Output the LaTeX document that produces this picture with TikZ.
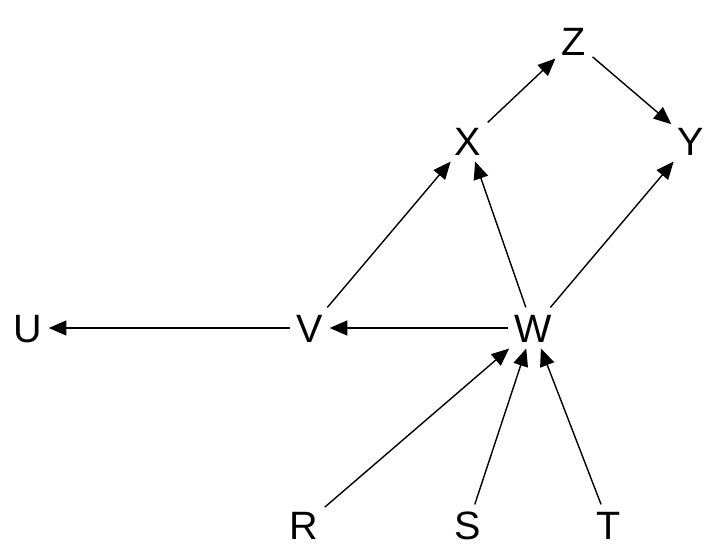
\documentclass[tikz,border=0pt]{standalone}
\usepackage{fontspec}
\setmainfont{Liberation Sans}
\usepackage{tikz}
\usetikzlibrary{arrows.meta}

\tikzset{
  var/.style={font=\fontsize{22.5}{26}\selectfont, inner sep=3.5pt,
    text height=16pt, text depth=0pt},
  arr/.style={-{Triangle[length=10pt,width=8.5pt]}, line width=0.8pt}
}

\begin{document}
\begin{tikzpicture}
    \useasboundingbox (0,0) rectangle (14.42,11.1);
    \node[var] (Z) at (11.48,10.28) {Z};
    \node[var] (X) at (9.36,8.28) {X};
    \node[var] (Y) at (13.82,8.28) {Y};
    \node[var] (U) at (0.56,4.54) {U};
    \node[var] (V) at (6.2,4.54) {V};
    \node[var] (W) at (10.66,4.54) {W};
    \node[var] (R) at (6.08,0.6) {R};
    \node[var] (S) at (9.36,0.6) {S};
    \node[var] (T) at (12.18,0.6) {T};
    \draw[arr] (X) -- (Z);
    \draw[arr] (Z) -- (Y);
    \draw[arr] (V) -- (X);
    \draw[arr] (W) -- (X);
    \draw[arr] (W) -- (Y);
    \draw[arr] (V) -- (U);
    \draw[arr] (W) -- (V);
    \draw[arr] (R) -- (W);
    \draw[arr] (S) -- (W);
    \draw[arr] (T) -- (W);
  \end{tikzpicture}
\end{document}
